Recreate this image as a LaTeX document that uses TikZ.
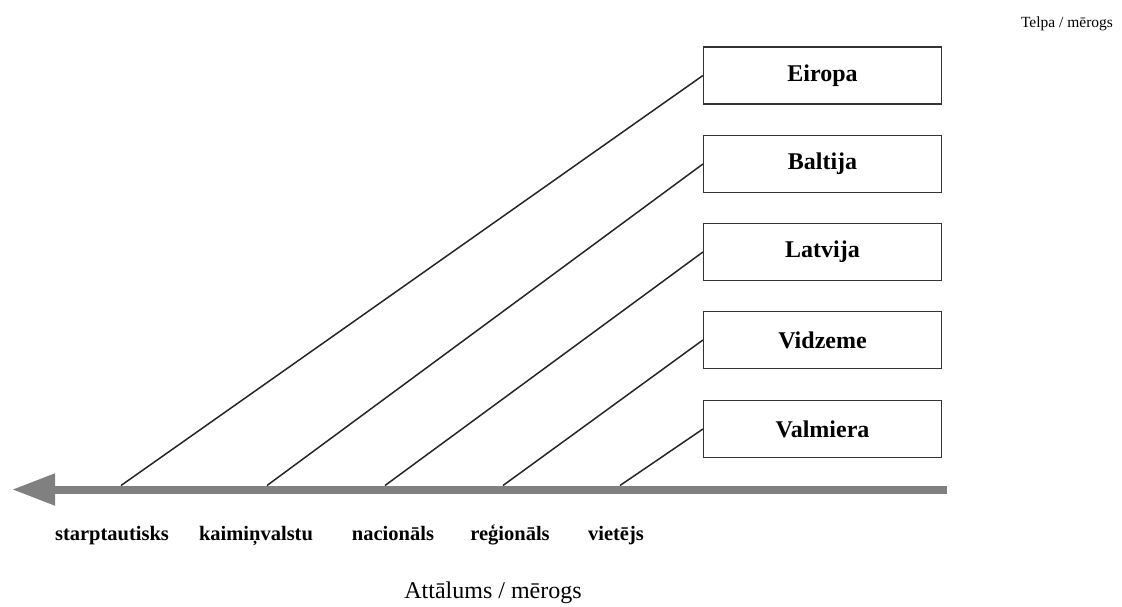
\documentclass[tikz,border=0pt]{standalone}
\usepackage{fontspec}
\setmainfont{Liberation Serif}
\usetikzlibrary{arrows.meta}
\tikzset{
  telpa/.style={draw=black!80, line width=1.2pt, minimum width=238pt, minimum height=57pt,
    inner sep=0pt, font=\fontsize{24}{28}\selectfont\bfseries},
  limenis/.style={font=\fontsize{20.5}{24}\selectfont\bfseries, anchor=base},
  saite/.style={line width=1.5pt, black!85}
}
\begin{document}
\begin{tikzpicture}[x=1pt,y=-1pt]
\useasboundingbox (0,0) rectangle (1122,606);

% ass
\draw[line width=8pt, black!50, -{Triangle[length=43pt,width=30pt]}] (947,489.5) -- (12,489.5);

% telpas
\node[telpa] (eiropa)   at (822.5, 75.5) {Eiropa};
\node[telpa] (baltija)  at (822.5,164)   {Baltija};
\node[telpa] (latvija)  at (822.5,252)   {Latvija};
\node[telpa] (vidzeme)  at (822.5,340)   {Vidzeme};
\node[telpa] (valmiera) at (822.5,429)   {Valmiera};

% punkti uz ass
\coordinate (a1) at (121,485.5);
\coordinate (a2) at (267,485.5);
\coordinate (a3) at (385,485.5);
\coordinate (a4) at (503,485.5);
\coordinate (a5) at (620,485.5);

\draw[saite] (a1) -- (eiropa.west);
\draw[saite] (a2) -- (baltija.west);
\draw[saite] (a3) -- (latvija.west);
\draw[saite] (a4) -- (vidzeme.west);
\draw[saite] (a5) -- (valmiera.west);

% merogi
\node[limenis] (starpt)  at (112,540) {starptautisks};
\node[limenis] (kaimin)  at (256,540) {kaimiņvalstu};
\node[limenis] (nacion)  at (393,540) {nacionāls};
\node[limenis] (region)  at (510,540) {reģionāls};
\node[limenis] (vietejs) at (616,540) {vietējs};

\node[anchor=base, font=\fontsize{24}{28}\selectfont] (attalums) at (493,598) {Attālums / mērogs};
\node[anchor=base, font=\fontsize{15.5}{18}\selectfont] (telpa) at (1067,27) {Telpa / mērogs};

\end{tikzpicture}
\end{document}
